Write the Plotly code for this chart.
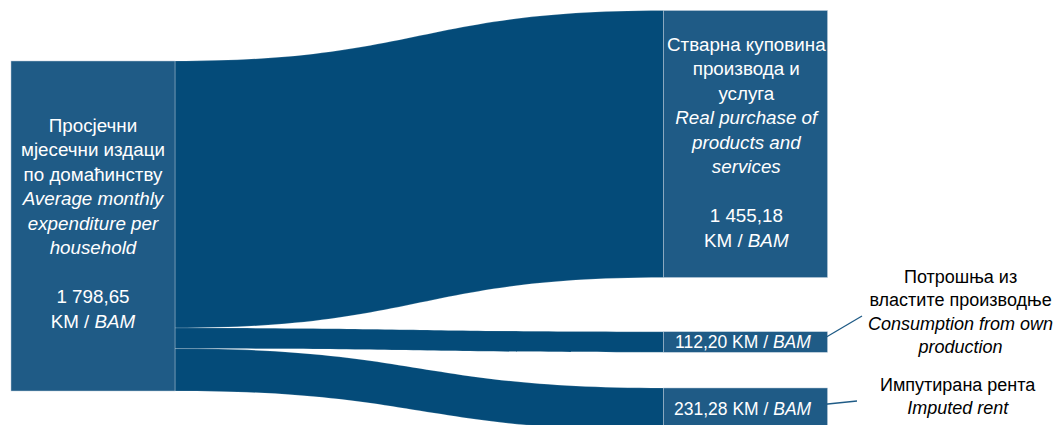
import plotly.graph_objects as go

# ---- data ----
source_label_sr = ["Просјечни", "мјесечни издаци", "по домаћинству"]
source_label_en = ["Average monthly", "expenditure per", "household"]
source_total = 1798.65

target_labels_sr = [["Стварна куповина", "производа и", "услуга"],
                    ["Потрошња из", "властите производње"],
                    ["Импутирана рента"]]
target_labels_en = [["Real purchase of", "products and", "services"],
                    ["Consumption from own", "production"],
                    ["Imputed rent"]]
target_values = [1455.18, 112.20, 231.28]
unit_sr = "KM"
unit_en = "BAM"

# ---- style ----
NODE_COL = "#1f5b86"
LINK_COL = "#044b79"
FONT = "Liberation Sans, Arial, sans-serif"
OFF = 8                     # page body margin
W, H = 1061 - OFF, 425 - OFF


def fmt(v):
    return f"{v:,.2f}".replace(",", " ").replace(".", ",")


def px(x):                  # page pixel -> paper
    return (x - OFF) / W


def py(y):
    return 1 - (y - OFF) / H


node_labels = [" ".join(source_label_sr)] + [" ".join(t) for t in target_labels_sr]

fig = go.Figure(go.Sankey(
    arrangement="fixed",
    domain=dict(x=[0, 1], y=[0, 1]),
    node=dict(
        label=["", "", "", ""],
        customdata=node_labels,
        x=[px(93), px(745.5), px(745.5), px(745.5)],
        y=[1 - py(226), 1 - py(144), 1 - py(342), 1 - py(409.2)],
        thickness=164,
        pad=(H - 330) / 2,
        color=[NODE_COL] * 4,
        line=dict(color="rgba(190,205,220,0.8)", width=0.6),
        hoverinfo="none",
    ),
    link=dict(
        source=[0, 0, 0],
        target=[1, 2, 3],
        value=target_values,
        color=[LINK_COL] * 3,
        line=dict(color="rgba(255,255,255,0.35)", width=0.5),
        hoverinfo="none",
    ),
))

anns = []
# left node text
left_txt = "<br>".join(source_label_sr + [f"<i>{s}</i>" for s in source_label_en]) \
    + "<br> <br>" + fmt(source_total) + f"<br>{unit_sr} / <i>{unit_en}</i>"
anns.append(dict(x=px(93), y=py(223.5), text=left_txt, xanchor="center", yanchor="middle",
                 showarrow=False, font=dict(color="white", size=18.8, family=FONT), align="center"))
# top right node text
right_txt = "<br>".join(target_labels_sr[0] + [f"<i>{s}</i>" for s in target_labels_en[0]]) \
    + "<br> <br>" + fmt(target_values[0]) + f"<br>{unit_sr} / <i>{unit_en}</i>"
anns.append(dict(x=px(746), y=py(142.5), text=right_txt, xanchor="center", yanchor="middle",
                 showarrow=False, font=dict(color="white", size=18.8, family=FONT), align="center"))
# small nodes values
for v, yc in [(target_values[1], 342), (target_values[2], 409)]:
    anns.append(dict(x=px(743), y=py(yc), text=f"{fmt(v)} {unit_sr} / <i>{unit_en}</i>",
                     xanchor="center", yanchor="middle", showarrow=False,
                     font=dict(color="white", size=17.5, family=FONT)))
# outside labels
for i, yc, xc in [(1, 312, 960), (2, 396.5, 958)]:
    txt = "<br>".join(target_labels_sr[i] + [f"<i>{s}</i>" for s in target_labels_en[i]])
    anns.append(dict(x=px(xc), y=py(yc), text=txt, xanchor="center", yanchor="middle",
                     showarrow=False, font=dict(color="black", size=18, family=FONT), align="center"))

shapes = [
    dict(type="line", xref="paper", yref="paper", x0=px(823), y0=py(339), x1=px(862), y1=py(316),
         line=dict(color=NODE_COL, width=1.3)),
    dict(type="line", xref="paper", yref="paper", x0=px(818), y0=py(405), x1=px(857), y1=py(401),
         line=dict(color=NODE_COL, width=1.3)),
]

fig.update_layout(
    width=W, height=H,
    margin=dict(l=0, r=0, t=0, b=0),
    paper_bgcolor="white",
    font=dict(family=FONT),
    annotations=anns,
    shapes=shapes,
)

fig.write_html("out.html")
